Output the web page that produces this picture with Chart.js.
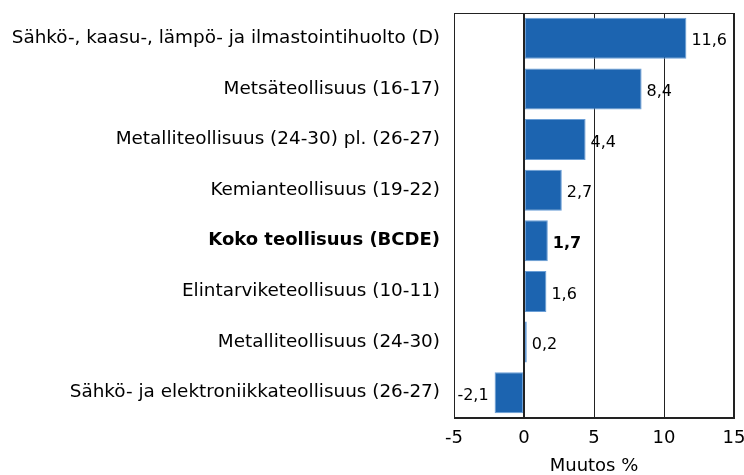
<!DOCTYPE html>
<html><head><meta charset="utf-8">
<script src="https://cdn.jsdelivr.net/npm/chart.js@4/dist/chart.umd.min.js"></script>
<style>html,body{margin:0;padding:0;background:#fff}#wrap{width:744px;height:475px}</style>
</head><body><div id="wrap"><canvas id="c" width="744" height="475"></canvas></div>
<script>
const categories = [
  "Sähkö-, kaasu-, lämpö- ja ilmastointihuolto (D)",
  "Metsäteollisuus (16-17)",
  "Metalliteollisuus (24-30) pl. (26-27)",
  "Kemianteollisuus (19-22)",
  "Koko teollisuus (BCDE)",
  "Elintarviketeollisuus (10-11)",
  "Metalliteollisuus (24-30)",
  "Sähkö- ja elektroniikkateollisuus (26-27)"
];
const values = [11.6, 8.4, 4.4, 2.7, 1.7, 1.6, 0.2, -2.1];
const boldIndex = 4;
const xTicks = [-5, 0, 5, 10, 15];
const axisTitle = "Muutos %";

const FONT = "'DejaVu Sans', sans-serif";

const valueLabels = {
  id: 'valueLabels',
  afterDatasetsDraw(chart) {
    const ctx = chart.ctx;
    const meta = chart.getDatasetMeta(0);
    ctx.save();
    ctx.fillStyle = '#000';
    ctx.textBaseline = 'middle';
    meta.data.forEach((bar, i) => {
      const v = values[i];
      const txt = v.toFixed(1).replace('.', ',');
      ctx.font = (i === boldIndex ? 'bold ' : '') + '16px ' + FONT;
      if (v >= 0) { ctx.textAlign = 'left'; ctx.fillText(txt, bar.x + 5, bar.y + 3); }
      else { ctx.textAlign = 'right'; ctx.fillText(txt, bar.x - 6, bar.y + 3); }
    });
    ctx.restore();
  }
};

function noPad(s) { s.paddingLeft = 0; s.paddingRight = 0; s.paddingTop = 0; s.paddingBottom = 0; }

new Chart(document.getElementById('c'), {
  type: 'bar',
  data: {
    labels: categories,
    datasets: [{
      data: values,
      backgroundColor: '#1c64b0',
      borderColor: '#6a9ed6',
      borderWidth: 1,
      borderSkipped: false,
      barPercentage: 0.81,
      categoryPercentage: 1
    }]
  },
  options: {
    indexAxis: 'y',
    responsive: false,
    animation: false,
    layout: { padding: { top: 13, right: 10, left: 0, bottom: 0 } },
    plugins: { legend: { display: false }, tooltip: { enabled: false } },
    scales: {
      x: {
        min: -5, max: 15,
        afterBuildTicks(s) { s.ticks = xTicks.map(v => ({ value: v })); },
        afterFit(s) { noPad(s); s.height = 57; },
        grid: { color: '#222', lineWidth: (c) => (c.tick && c.tick.value === 0 ? 2 : 1), drawTicks: false },
        border: { display: true, color: '#222', width: 1 },
        ticks: { color: '#000', font: { family: FONT, size: 18 }, padding: 10 },
        title: { display: true, text: axisTitle, color: '#000', font: { family: FONT, size: 18, lineHeight: 1 }, padding: { top: 0, bottom: 0 } }
      },
      y: {
        afterFit(s) { noPad(s); s.width = 454; },
        grid: { display: false, drawTicks: false },
        border: { display: true, color: '#222', width: 1 },
        ticks: {
          color: '#000', padding: 14,
          font: (c) => (c.index === boldIndex ? { family: FONT, size: 18, weight: 'bold' } : { family: FONT, size: 18.4, weight: 'normal' })
        }
      }
    }
  },
  plugins: [valueLabels, {
    id: 'frame',
    afterDraw(chart) {
      const a = chart.chartArea, ctx = chart.ctx;
      ctx.save(); ctx.strokeStyle = '#222'; ctx.lineWidth = 1;
      ctx.strokeRect(Math.round(a.left) + 0.5, Math.round(a.top) + 0.5, Math.round(a.right - a.left) - 1, Math.round(a.bottom - a.top) - 1);
      ctx.restore();
    }
  }]
});
</script></body></html>
